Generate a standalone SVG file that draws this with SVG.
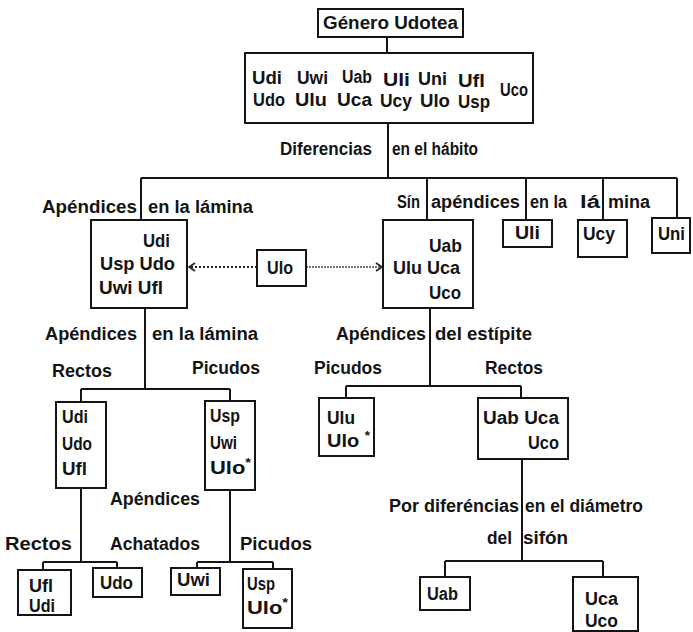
<svg xmlns="http://www.w3.org/2000/svg" width="693" height="632" viewBox="0 0 693 632">
<defs>
<style>
.b{fill:#fff;stroke:#141414;stroke-width:2}
.c{fill:none;stroke:#141414;stroke-width:2}
.d{fill:none;stroke:#222;stroke-width:2;stroke-dasharray:2 2}
.d2{fill:none;stroke:#777;stroke-width:2;stroke-dasharray:2 1}
text{font-family:"Liberation Sans Narrow","Liberation Sans",Arial,sans-serif;font-weight:bold;font-size:18px;fill:#141414}
.s{font-size:12px}
</style>
<marker id="ah" markerWidth="9" markerHeight="10" refX="7" refY="5" orient="auto" markerUnits="userSpaceOnUse">
<path d="M1,1 L7,5 L1,9" fill="none" stroke="#222" stroke-width="1.6"/>
</marker>
</defs>
<rect width="693" height="632" fill="#fff"/>
<g id="connectors">
<path class="c" d="M387,37 V53"/>
<path class="c" d="M388,123 V178 M141,178 H677 M141,178 V220 M427,178 V220 M526,178 V220 M603,178 V220 M677,178 V218"/>
<path class="c" d="M145,308 V389 M81,389 H230 M81,389 V402 M230,389 V401"/>
<path class="c" d="M430,308 V386 M346,386 H521 M346,386 V398 M521,386 V398"/>
<path class="c" d="M81,488 V562 M43,562 H117 M43,562 V570 M117,562 V568"/>
<path class="c" d="M230,490 V562 M197,562 H273 M197,562 V568 M273,562 V569"/>
<path class="c" d="M522,459 V561 M445,561 H603 M445,561 V577 M603,561 V577"/>
<path class="d" d="M257,267 H189" marker-end="url(#ah)"/>
<path class="d2" d="M306,267 H382" marker-end="url(#ah)"/>
</g>
<g id="labels">
<text x="280" y="155" textLength="92" lengthAdjust="spacingAndGlyphs">Diferencias</text>
<text x="392" y="155" textLength="86" lengthAdjust="spacingAndGlyphs">en el hábito</text>
<text x="42" y="213" textLength="95" lengthAdjust="spacingAndGlyphs">Apéndices</text>
<text x="148" y="213" textLength="105" lengthAdjust="spacingAndGlyphs">en la lámina</text>
<text x="397" y="208" textLength="23" lengthAdjust="spacingAndGlyphs">Sín</text>
<text x="431" y="208" textLength="89" lengthAdjust="spacingAndGlyphs">apéndices</text>
<text x="530" y="208" textLength="37" lengthAdjust="spacingAndGlyphs">en la</text>
<text x="580" y="208" textLength="20" lengthAdjust="spacingAndGlyphs">lá</text>
<text x="608" y="208" textLength="42" lengthAdjust="spacingAndGlyphs">mina</text>
<text x="45" y="340" textLength="92" lengthAdjust="spacingAndGlyphs">Apéndices</text>
<text x="152" y="340" textLength="106" lengthAdjust="spacingAndGlyphs">en la lámina</text>
<text x="52" y="377" textLength="60" lengthAdjust="spacingAndGlyphs">Rectos</text>
<text x="192" y="374" textLength="68" lengthAdjust="spacingAndGlyphs">Picudos</text>
<text x="336" y="340" textLength="90" lengthAdjust="spacingAndGlyphs">Apéndices</text>
<text x="435" y="340" textLength="97" lengthAdjust="spacingAndGlyphs">del estípite</text>
<text x="314" y="374" textLength="68" lengthAdjust="spacingAndGlyphs">Picudos</text>
<text x="485" y="374" textLength="58" lengthAdjust="spacingAndGlyphs">Rectos</text>
<text x="110" y="505" textLength="90" lengthAdjust="spacingAndGlyphs">Apéndices</text>
<text x="5" y="550" textLength="67" lengthAdjust="spacingAndGlyphs">Rectos</text>
<text x="110" y="550" textLength="90" lengthAdjust="spacingAndGlyphs">Achatados</text>
<text x="240" y="550" textLength="72" lengthAdjust="spacingAndGlyphs">Picudos</text>
<text x="389" y="512" textLength="130" lengthAdjust="spacingAndGlyphs">Por diferéncias</text>
<text x="525" y="512" textLength="118" lengthAdjust="spacingAndGlyphs">en el diámetro</text>
<text x="487" y="544" textLength="25" lengthAdjust="spacingAndGlyphs">del</text>
<text x="523" y="544" textLength="45" lengthAdjust="spacingAndGlyphs">sifón</text>
</g>
<g id="n-genero">
<rect class="b" x="318" y="9" width="145" height="28"/>
<text x="323" y="29" textLength="135" lengthAdjust="spacingAndGlyphs">Género Udotea</text>
</g>
<g id="n-todas">
<rect class="b" x="245" y="53" width="288" height="70"/>
<text x="252" y="84" textLength="30" lengthAdjust="spacingAndGlyphs">Udi</text>
<text x="297" y="84" textLength="31" lengthAdjust="spacingAndGlyphs">Uwi</text>
<text x="342" y="83" textLength="30" lengthAdjust="spacingAndGlyphs">Uab</text>
<text x="383" y="86" textLength="27" lengthAdjust="spacingAndGlyphs">Uli</text>
<text x="418" y="85" textLength="29" lengthAdjust="spacingAndGlyphs">Uni</text>
<text x="458" y="87" textLength="27" lengthAdjust="spacingAndGlyphs">Ufl</text>
<text x="500" y="96" textLength="28" lengthAdjust="spacingAndGlyphs">Uco</text>
<text x="253" y="106" textLength="32" lengthAdjust="spacingAndGlyphs">Udo</text>
<text x="295" y="106" textLength="32" lengthAdjust="spacingAndGlyphs">Ulu</text>
<text x="337" y="106" textLength="35" lengthAdjust="spacingAndGlyphs">Uca</text>
<text x="380" y="107" textLength="32" lengthAdjust="spacingAndGlyphs">Ucy</text>
<text x="420" y="107" textLength="30" lengthAdjust="spacingAndGlyphs">Ulo</text>
<text x="458" y="108" textLength="32" lengthAdjust="spacingAndGlyphs">Usp</text>
</g>
<g id="n-con-apendices">
<rect class="b" x="91" y="220" width="96" height="88"/>
<text x="143" y="247" textLength="27" lengthAdjust="spacingAndGlyphs">Udi</text>
<text x="100" y="270" textLength="75" lengthAdjust="spacingAndGlyphs">Usp Udo</text>
<text x="99" y="294" textLength="64" lengthAdjust="spacingAndGlyphs">Uwi  Ufl</text>
</g>
<g id="n-ulo">
<rect class="b" x="257" y="250" width="49" height="36"/>
<text x="267" y="274" textLength="26" lengthAdjust="spacingAndGlyphs">Ulo</text>
</g>
<g id="n-sin-apendices">
<rect class="b" x="383" y="220" width="90" height="88"/>
<text x="429" y="252" textLength="33" lengthAdjust="spacingAndGlyphs">Uab</text>
<text x="393" y="274" textLength="67" lengthAdjust="spacingAndGlyphs">Ulu Uca</text>
<text x="429" y="299" textLength="32" lengthAdjust="spacingAndGlyphs">Uco</text>
</g>
<g id="n-uli">
<rect class="b" x="503" y="220" width="49" height="27"/>
<text x="515" y="239" textLength="25" lengthAdjust="spacingAndGlyphs">Uli</text>
</g>
<g id="n-ucy">
<rect class="b" x="578" y="220" width="49" height="37"/>
<text x="583" y="240" textLength="32" lengthAdjust="spacingAndGlyphs">Ucy</text>
</g>
<g id="n-uni">
<rect class="b" x="652" y="218" width="38" height="35"/>
<text x="658" y="240" textLength="27" lengthAdjust="spacingAndGlyphs">Uni</text>
</g>
<g id="n-rectos-1">
<rect class="b" x="56" y="402" width="50" height="86"/>
<text x="62" y="423" textLength="26" lengthAdjust="spacingAndGlyphs">Udi</text>
<text x="62" y="450" textLength="30" lengthAdjust="spacingAndGlyphs">Udo</text>
<text x="62" y="475" textLength="25" lengthAdjust="spacingAndGlyphs">Ufl</text>
</g>
<g id="n-picudos-1">
<rect class="b" x="205" y="401" width="50" height="89"/>
<text x="210" y="422" textLength="30" lengthAdjust="spacingAndGlyphs">Usp</text>
<text x="210" y="449" textLength="27" lengthAdjust="spacingAndGlyphs">Uwi</text>
<text x="210" y="474" textLength="41" lengthAdjust="spacingAndGlyphs">Ulo<tspan class="s" dy="-7">*</tspan></text>
</g>
<g id="n-picudos-2">
<rect class="b" x="319" y="398" width="55" height="58"/>
<text x="327" y="424" textLength="28" lengthAdjust="spacingAndGlyphs">Ulu</text>
<text x="327" y="447" textLength="43" lengthAdjust="spacingAndGlyphs">Ulo <tspan class="s" dy="-7">*</tspan></text>
</g>
<g id="n-rectos-2">
<rect class="b" x="478" y="398" width="90" height="61"/>
<text x="483" y="424" textLength="76" lengthAdjust="spacingAndGlyphs">Uab  Uca</text>
<text x="528" y="449" textLength="31" lengthAdjust="spacingAndGlyphs">Uco</text>
</g>
<g id="n-ufl-udi">
<rect class="b" x="18" y="570" width="53" height="45"/>
<text x="29" y="592" textLength="24" lengthAdjust="spacingAndGlyphs">Ufl</text>
<text x="29" y="612" textLength="26" lengthAdjust="spacingAndGlyphs">Udi</text>
</g>
<g id="n-udo">
<rect class="b" x="93" y="568" width="49" height="29"/>
<text x="100" y="589" textLength="33" lengthAdjust="spacingAndGlyphs">Udo</text>
</g>
<g id="n-uwi">
<rect class="b" x="171" y="568" width="49" height="27"/>
<text x="177" y="586" textLength="33" lengthAdjust="spacingAndGlyphs">Uwi</text>
</g>
<g id="n-usp-ulo">
<rect class="b" x="243" y="569" width="49" height="59"/>
<text x="247" y="590" textLength="28" lengthAdjust="spacingAndGlyphs">Usp</text>
<text x="247" y="614" textLength="41" lengthAdjust="spacingAndGlyphs">Ulo<tspan class="s" dy="-7">*</tspan></text>
</g>
<g id="n-uab">
<rect class="b" x="420" y="577" width="50" height="33"/>
<text x="427" y="600" textLength="31" lengthAdjust="spacingAndGlyphs">Uab</text>
</g>
<g id="n-uca-uco">
<rect class="b" x="573" y="577" width="65" height="54"/>
<text x="585" y="605" textLength="33" lengthAdjust="spacingAndGlyphs">Uca</text>
<text x="585" y="627" textLength="33" lengthAdjust="spacingAndGlyphs">Uco</text>
</g>
</svg>
